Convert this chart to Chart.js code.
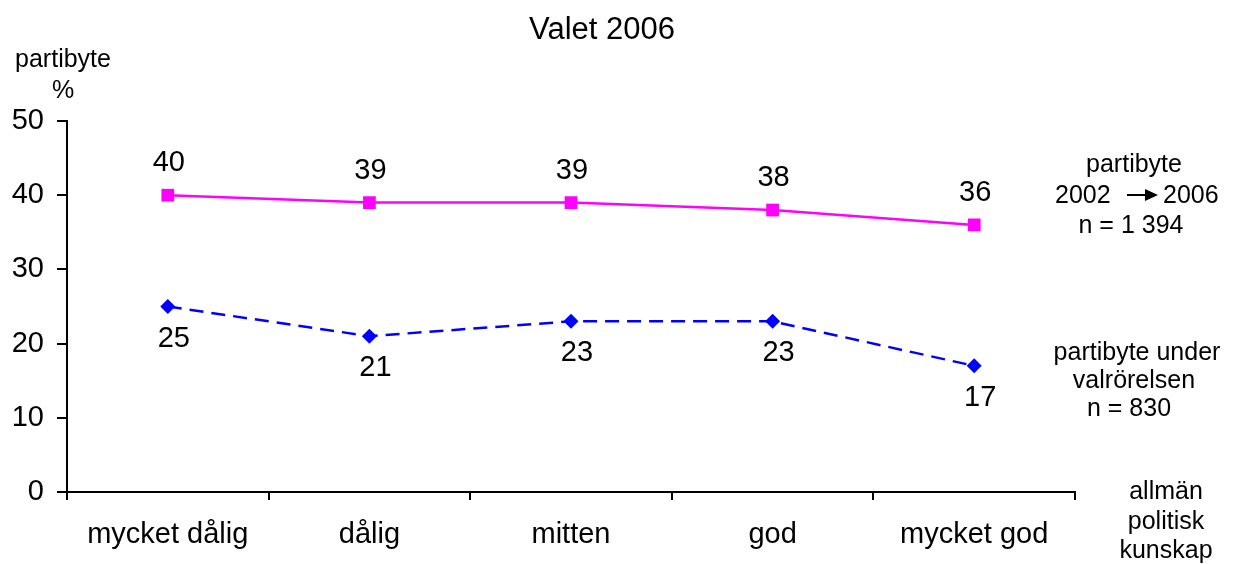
<!DOCTYPE html>
<html>
<head>
<meta charset="utf-8">
<script src="https://cdn.jsdelivr.net/npm/chart.js@4"></script>
<style>
  body { margin: 0; background: #fff; }
</style>
</head>
<body>
<canvas id="chart" width="1235" height="564"></canvas>
<script>
const categories = ['mycket dålig', 'dålig', 'mitten', 'god', 'mycket god'];
const bytePerioden = [40, 39, 39, 38, 36];
const byteValrorelsen = [25, 21, 23, 23, 17];
const yTicks = [0, 10, 20, 30, 40, 50];

const FONT = '"Liberation Sans", Arial, sans-serif';

// labels and annotations outside the plot
const textPlugin = {
    id: 'texts',
    afterDatasetsDraw(chart) {
        const ctx = chart.ctx;
        ctx.save();
        ctx.fillStyle = '#000';
        ctx.textAlign = 'center';
        ctx.textBaseline = 'middle';

        // point values
        ctx.font = '29px ' + FONT;
        chart.getDatasetMeta(0).data.forEach((pt, i) => {
            ctx.fillText(String(bytePerioden[i]), pt.x + 1, pt.y - 32);
        });
        chart.getDatasetMeta(1).data.forEach((pt, i) => {
            ctx.fillText(String(byteValrorelsen[i]), pt.x + 6, pt.y + 32);
        });

        // title
        ctx.font = '31px ' + FONT;
        ctx.fillText('Valet 2006', 602, 30);

        // y axis title
        ctx.font = '25px ' + FONT;
        ctx.fillText('partibyte', 63, 60);
        ctx.fillText('%', 63, 91);

        // series notes
        ctx.fillText('partibyte', 1134, 165);
        ctx.textAlign = 'left';
        ctx.fillText('2002', 1055, 196);
        ctx.fillText('2006', 1163, 196);
        ctx.textAlign = 'center';
        ctx.fillText('n = 1 394', 1131, 226);

        ctx.strokeStyle = '#000';
        ctx.lineWidth = 2;
        ctx.beginPath();
        ctx.moveTo(1127, 195);
        ctx.lineTo(1148, 195);
        ctx.stroke();
        ctx.beginPath();
        ctx.moveTo(1158, 195);
        ctx.lineTo(1145, 189);
        ctx.lineTo(1145, 201);
        ctx.closePath();
        ctx.fill();

        ctx.fillText('partibyte under', 1137, 353);
        ctx.fillText('valrörelsen', 1134, 381);
        ctx.fillText('n = 830', 1129, 409);

        // x axis title
        ctx.fillText('allmän', 1166, 492);
        ctx.fillText('politisk', 1166, 522);
        ctx.fillText('kunskap', 1166, 551);

        ctx.restore();
    }
};

new Chart(document.getElementById('chart'), {
    type: 'line',
    data: {
        labels: categories,
        datasets: [{
            label: 'partibyte 2002 → 2006',
            data: bytePerioden,
            borderColor: '#FF00FF',
            backgroundColor: '#FF00FF',
            borderWidth: 2.5,
            pointStyle: 'rect',
            pointRadius: 9,
            pointBorderWidth: 0,
            tension: 0
        }, {
            label: 'partibyte under valrörelsen',
            data: byteValrorelsen,
            borderColor: '#0000FF',
            backgroundColor: '#0000FF',
            borderWidth: 2.5,
            borderDash: [14, 8],
            pointStyle: 'rectRot',
            pointRadius: 7.5,
            pointBorderWidth: 0,
            tension: 0
        }]
    },
    options: {
        responsive: false,
        animation: false,
        layout: { padding: { top: 121, right: 160, left: 0, bottom: 0 } },
        plugins: {
            legend: { display: false },
            title: { display: false },
            tooltip: { enabled: false }
        },
        scales: {
            x: {
                offset: true,
                grid: {
                    offset: true,
                    drawOnChartArea: false,
                    drawTicks: true,
                    tickLength: 8,
                    color: '#000',
                    lineWidth: 2
                },
                border: { color: '#000', width: 2 },
                ticks: {
                    color: '#000',
                    font: { family: FONT, size: 29 },
                    padding: 18,
                    maxRotation: 0
                },
                afterFit(scale) { scale.height = 72; }
            },
            y: {
                min: 0,
                max: 50,
                afterBuildTicks(scale) { scale.ticks = yTicks.map(v => ({ value: v })); },
                grid: {
                    drawOnChartArea: false,
                    tickLength: 10,
                    color: '#000',
                    lineWidth: 2
                },
                border: { color: '#000', width: 2 },
                ticks: {
                    color: '#000',
                    font: { family: FONT, size: 29 },
                    padding: 13
                },
                afterFit(scale) { scale.width = 67; }
            }
        }
    },
    plugins: [textPlugin]
});
</script>
</body>
</html>
